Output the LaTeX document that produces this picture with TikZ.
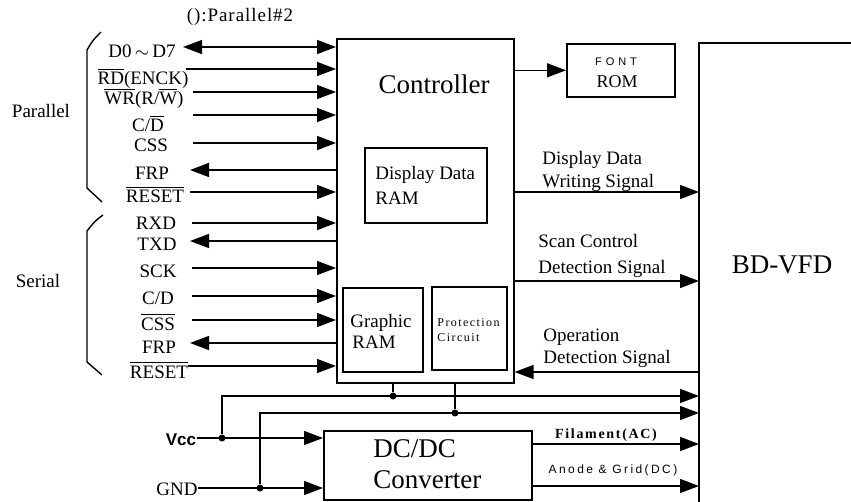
\documentclass[tikz,border=0pt]{standalone}
\usepackage{fontspec}
\setmainfont{Liberation Serif}
\newfontfamily\sansf{Liberation Sans}
\usetikzlibrary{arrows.meta}
\newcommand\myol[1]{$\overline{\hbox{#1}}$}
\begin{document}
\begin{tikzpicture}[x=0.5pt,y=-0.5pt,
  box/.style={draw,line width=0.8pt,inner sep=0pt,anchor=north west},
  sig/.style={line width=0.7pt,-{Triangle[length=9.5pt,width=7pt]}},
  sigl/.style={line width=0.7pt,{Triangle[length=9.5pt,width=7pt]}-},
  sigb/.style={line width=0.7pt,{Triangle[length=9.5pt,width=7pt]}-{Triangle[length=9.5pt,width=7pt]}},
  wire/.style={line width=0.7pt},
  lbl/.style={inner sep=0pt,anchor=base,font=\fontsize{9.5}{11}\selectfont},
  txt/.style={inner sep=0pt,anchor=base west,font=\fontsize{9.5}{11}\selectfont},
  big/.style={inner sep=0pt,anchor=base,font=\fontsize{13.5}{15}\selectfont},
  jdot/.style={circle,fill,inner sep=0pt,minimum size=3.5pt}]
\useasboundingbox (0,0) rectangle (851,502);

% boxes
\node[box,minimum width=88.5pt,minimum height=172pt] (ctrl) at (336,38) {};
\node[box,minimum width=61pt,minimum height=37.5pt] (ddram) at (364,147) {};
\node[box,minimum width=40pt,minimum height=42pt] (gram) at (342,287) {};
\node[box,minimum width=37.5pt,minimum height=41.5pt] (prot) at (431,286) {};
\node[box,minimum width=54pt,minimum height=26.5pt] (rom) at (566,43) {};
\node[box,minimum width=104pt,minimum height=34.5pt] (dcdc) at (323,430) {};
\coordinate (vfdtl) at (699,43);
\draw[line width=0.8pt] (851,43) -- (vfdtl) -- (699,502);

% box texts
\node[big] (ctrltxt) at (434,94) {Controller};
\node[big] (vfdtxt) at (782,273) {BD-VFD};
\node[big,anchor=base west] (dc1) at (373,457) {DC/DC};
\node[big,anchor=base west] (dc2) at (373,488) {Converter};
\node[txt] (dd1) at (375,180) {Display Data};
\node[txt] (dd2) at (375,205) {RAM};
\node[txt] (gr1) at (350,328) {Graphic};
\node[txt] (gr2) at (352,348) {RAM};
\node[txt,font=\fontsize{6}{7}\selectfont\addfontfeature{LetterSpace=12}] (pr1) at (437,327) {Protection};
\node[txt,font=\fontsize{6}{7}\selectfont\addfontfeature{LetterSpace=12}] (pr2) at (437,342) {Circuit};
\node[lbl,font=\sansf\fontsize{5.5}{6}\selectfont\addfontfeature{LetterSpace=36}] (ft1) at (616,66) {FONT};
\node[lbl,font=\fontsize{9}{10}\selectfont] (ft2) at (617,88) {ROM};

% right side signal texts
\node[txt] (s1a) at (542,165) {Display Data};
\node[txt] (s1b) at (542,188) {Writing Signal};
\node[txt] (s2a) at (538,248) {Scan Control};
\node[txt] (s2b) at (538,273) {Detection Signal};
\node[txt] (s3a) at (543,342) {Operation};
\node[txt] (s3b) at (543,363) {Detection Signal};
\node[lbl,font=\bfseries\fontsize{7}{8}\selectfont\addfontfeature{LetterSpace=12}] (fil) at (606,438) {Filament(AC)};
\node[lbl,font=\sansf\fontsize{6}{7}\selectfont\addfontfeature{LetterSpace=20}] (ano) at (613,473) {Anode \& Grid(DC)};

% right side connectors
\draw[sig] (ctrl.east |- rom.west) -- (rom.west);
\coordinate (y1) at (0,192);
\coordinate (y2) at (0,281);
\coordinate (y3) at (0,372);
\coordinate (y4) at (0,444);
\coordinate (y5) at (0,486);
\draw[sig] (ctrl.east |- y1) -- (vfdtl |- y1);
\draw[sig] (ctrl.east |- y2) -- (vfdtl |- y2);
\draw[sig] (vfdtl |- y3) -- (ctrl.east |- y3);
\draw[sig] (dcdc.east |- y4) -- (vfdtl |- y4);
\draw[sig] (dcdc.east |- y5) -- (vfdtl |- y5);

% power
\node[lbl,font=\sansf\bfseries\fontsize{8.5}{10}\selectfont] (vcc) at (181,445) {Vcc};
\node[lbl] (gnd) at (177,495) {GND};
\node[jdot] (j1) at (393,396) {};
\node[jdot] (j2) at (455,413) {};
\node[jdot] (jv) at (222,438) {};
\node[jdot] (jg) at (260,488) {};
\coordinate (c1) at (222,396);
\coordinate (c2) at (260,413);
\draw[wire] (j1 |- ctrl.south) -- (j1);
\draw[wire] (j2 |- ctrl.south) -- (j2);
\draw[sig] (jv) -- (c1) -- (c1 -| vfdtl);
\draw[sig] (jg) -- (c2) -- (c2 -| vfdtl);
\draw[sig] (vcc.east |- jv) -- (jv -| dcdc.west);
\draw[sig] (gnd.east |- jg) -- (jg -| dcdc.west);

% left labels
\node[lbl,font=\fontsize{9.5}{11}\selectfont\addfontfeature{LetterSpace=5}] (note) at (240,22) {():Parallel\#2};
\node[lbl] (par) at (41,118) {Parallel};
\node[lbl] (ser) at (38,287) {Serial};
\draw[wire] (101,32) .. controls (93,40) .. (87,50) -- (87,188) -- (102,202);
\draw[wire] (103,215) .. controls (95,221) .. (87,231) -- (87,362) -- (102,375);

% parallel rows
\node[lbl] (p1) at (142,58) {D0\,$\sim$\,D7};
\node[lbl] (p2) at (143,85) {\myol{RD}(ENCK)};
\node[lbl] (p3) at (144,105) {\myol{WR}(R/\myol{W})};
\node[lbl] (p4) at (148,132) {C/\myol{D}};
\node[lbl] (p5) at (151,152) {CSS};
\node[lbl] (p6) at (152,180) {FRP};
\node[lbl] (p7) at (155,203) {\myol{RESET}};
\coordinate (a1) at (183,47);
\coordinate (a2) at (186,69);
\coordinate (a3) at (193,92);
\coordinate (a4) at (193,115);
\coordinate (a5) at (193,143);
\coordinate (a6) at (190,170);
\coordinate (a7) at (190,192);
\draw[sigb] (a1) -- (a1 -| ctrl.west);
\draw[sig] (a2) -- (a2 -| ctrl.west);
\draw[sig] (a3) -- (a3 -| ctrl.west);
\draw[sig] (a4) -- (a4 -| ctrl.west);
\draw[sig] (a5) -- (a5 -| ctrl.west);
\draw[sigl] (a6) -- (a6 -| ctrl.west);
\draw[sig] (a7) -- (a7 -| ctrl.west);

% serial rows
\node[lbl] (q1) at (156,230) {RXD};
\node[lbl] (q2) at (157,250) {TXD};
\node[lbl] (q3) at (158,278) {SCK};
\node[lbl] (q4) at (158,305) {C/D};
\node[lbl] (q5) at (158,330) {\myol{CSS}};
\node[lbl] (q6) at (159,353) {FRP};
\node[lbl] (q7) at (159,378) {\myol{RESET}};
\coordinate (b1) at (192,223);
\coordinate (b2) at (190,241);
\coordinate (b3) at (192,268);
\coordinate (b4) at (192,296);
\coordinate (b5) at (192,320);
\coordinate (b6) at (190,343);
\coordinate (b7) at (188,366);
\draw[sig] (b1) -- (b1 -| ctrl.west);
\draw[sigl] (b2) -- (b2 -| ctrl.west);
\draw[sig] (b3) -- (b3 -| ctrl.west);
\draw[sig] (b4) -- (b4 -| ctrl.west);
\draw[sig] (b5) -- (b5 -| ctrl.west);
\draw[sigl] (b6) -- (b6 -| ctrl.west);
\draw[sig] (b7) -- (b7 -| ctrl.west);
\end{tikzpicture}
\end{document}
